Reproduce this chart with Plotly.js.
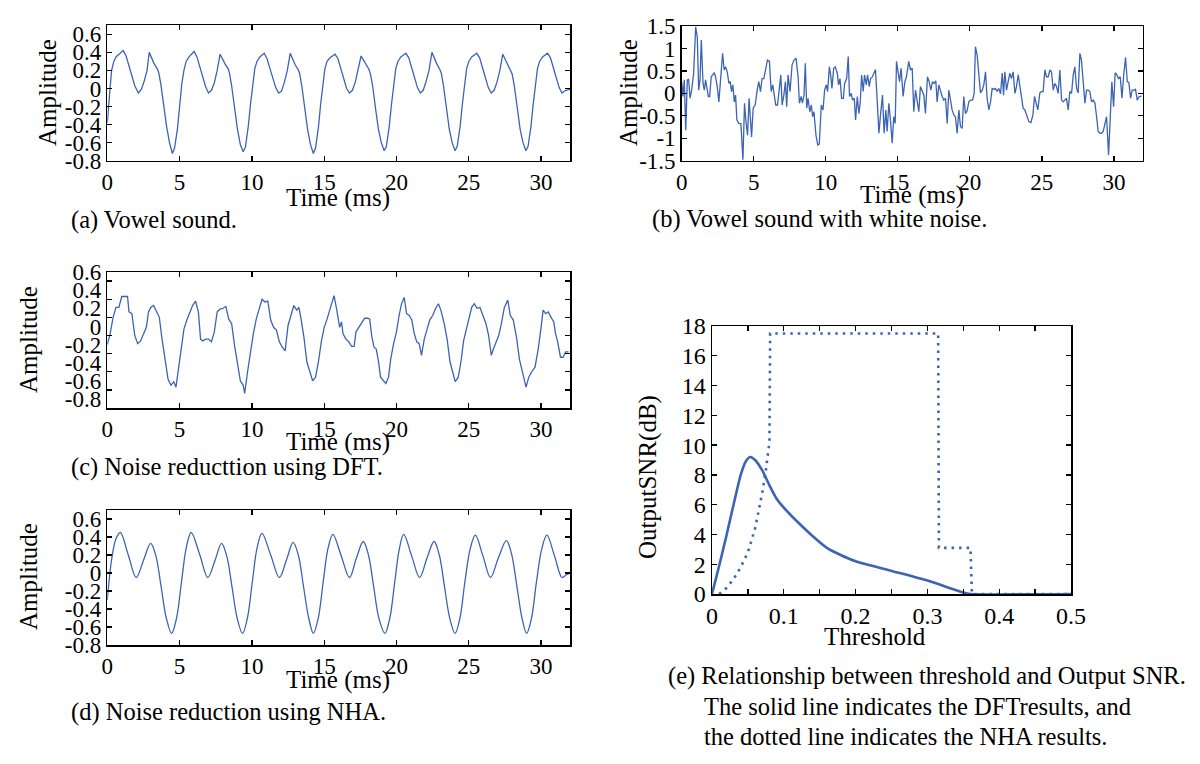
<!DOCTYPE html>
<html><head><meta charset="utf-8">
<script src="https://cdn.plot.ly/plotly-3.0.1.min.js"></script>
<style>html,body{margin:0;padding:0;background:#fff}#chart{width:1200px;height:764px}</style>
</head><body><div id="chart"></div>
<script>
// (a) Vowel sound
const timeA = [0,0.1,0.2,0.3,0.45,0.6,0.8,1.1,1.3,1.5,1.7,1.9,2.15,2.35,2.55,2.75,2.9,3.05,3.25,3.45,3.55,3.7,3.9,4.1,4.3,4.5,4.65,4.85,5.0,5.15,5.3,5.45,5.65,5.85,6.0,
6.2,6.4,6.6,6.8,7.0,7.2,7.4,7.6,7.8,7.95,8.15,8.35,8.45,8.6,8.8,9.0,9.2,9.4,9.55,9.75,9.9,10.05,10.2,10.35,10.55,10.85,
11.05,11.25,11.45,11.65,11.85,12.05,12.25,12.45,12.65,12.8,13.0,13.2,13.3,13.45,13.65,13.85,14.05,14.25,14.4,14.6,14.75,14.9,15.05,15.2,15.4,15.75,
15.95,16.15,16.35,16.55,16.75,16.95,17.15,17.35,17.55,17.7,17.9,18.1,18.2,18.35,18.55,18.75,18.95,19.15,19.3,19.5,19.65,19.8,19.95,20.1,20.3,20.65,
20.85,21.05,21.25,21.45,21.65,21.85,22.05,22.25,22.45,22.6,22.8,23.0,23.1,23.25,23.45,23.65,23.85,24.05,24.2,24.4,24.55,24.7,24.85,25.0,25.2,25.55,
25.75,25.95,26.15,26.35,26.55,26.75,26.95,27.15,27.35,27.5,27.7,27.9,28.0,28.15,28.35,28.55,28.75,28.95,29.1,29.3,29.45,29.6,29.75,29.9,30.1,30.45,
30.65,30.85,31.05,31.25,31.45,31.7,32.0];
const ampA = [-0.38,-0.22,0.02,0.2,0.3,0.35,0.38,0.42,0.36,0.24,0.12,0.03,-0.05,-0.01,0.08,0.2,0.4,0.34,0.27,0.22,0.18,0.05,-0.2,-0.42,-0.6,-0.72,-0.66,-0.45,-0.2,0.05,0.2,0.3,0.35,0.38,0.41,
0.35,0.24,0.12,0.02,-0.05,-0.02,0.06,0.2,0.38,0.33,0.27,0.22,0.17,0.03,-0.22,-0.45,-0.62,-0.7,-0.65,-0.42,-0.18,0.06,0.22,0.3,0.35,0.39,
0.33,0.22,0.11,0.01,-0.05,-0.03,0.07,0.2,0.39,0.33,0.26,0.21,0.17,0.03,-0.22,-0.45,-0.62,-0.72,-0.66,-0.43,-0.18,0.06,0.22,0.3,0.34,0.38,
0.33,0.22,0.1,0.0,-0.05,-0.02,0.07,0.2,0.36,0.32,0.26,0.21,0.16,0.03,-0.22,-0.45,-0.6,-0.69,-0.64,-0.42,-0.18,0.06,0.22,0.3,0.35,0.39,
0.34,0.23,0.11,0.01,-0.05,-0.02,0.08,0.2,0.4,0.34,0.27,0.21,0.17,0.03,-0.22,-0.45,-0.6,-0.69,-0.64,-0.42,-0.18,0.06,0.22,0.3,0.35,0.39,
0.34,0.23,0.11,0.01,-0.05,-0.02,0.07,0.2,0.38,0.33,0.26,0.21,0.16,0.03,-0.22,-0.45,-0.6,-0.69,-0.64,-0.42,-0.18,0.06,0.22,0.3,0.35,0.39,
0.34,0.23,0.11,0.01,-0.05,-0.02,-0.01];

// (b) Vowel sound with white noise
const timeB = [0,0.09,0.18,0.28,0.39,0.48,0.58,0.69,0.83,0.97,1.08,1.18,1.27,1.36,1.48,1.57,1.66,1.75,1.85,1.94,2.05,2.15,2.26,2.35,2.47,2.58,2.72,2.84,2.95,3.05,3.16,3.28,3.37,3.46,3.55,3.65,3.74,3.83,3.97,4.11,4.25,4.36,4.45,4.57,4.68,4.85,4.96,
5.1,5.24,5.35,5.47,5.58,5.7,5.84,5.95,6.09,6.21,6.32,6.44,6.53,6.65,6.76,6.88,6.97,7.09,7.2,7.29,7.38,7.52,7.66,7.8,7.94,8.08,8.17,8.29,8.38,8.49,8.58,8.68,8.77,8.89,9.0,9.09,9.18,9.32,9.44,9.55,9.69,9.81,9.92,
10.04,10.13,10.25,10.34,10.43,10.55,10.66,10.8,10.89,10.99,11.1,11.22,11.31,11.45,11.56,11.65,11.77,11.86,11.98,12.07,12.19,12.3,12.39,12.49,12.6,12.69,12.81,12.9,13.02,13.11,13.22,13.34,13.45,13.55,13.69,13.8,13.94,
14.05,14.17,14.26,14.38,14.49,14.61,14.72,14.82,14.91,15.0,15.12,15.23,15.37,15.49,15.6,15.76,15.88,16.0,16.11,16.23,16.34,16.46,16.57,16.69,16.81,16.92,17.06,17.18,17.29,17.41,17.52,17.64,17.73,17.85,17.96,
18.08,18.19,18.31,18.43,18.54,18.66,18.77,18.89,19.0,19.12,19.24,19.35,19.47,19.58,19.7,19.81,19.93,20.05,20.19,20.3,20.39,20.51,20.63,20.74,20.86,20.97,21.09,21.2,21.32,21.44,21.55,21.67,21.78,21.9,
22.01,22.13,22.25,22.34,22.43,22.55,22.66,22.78,22.89,23.01,23.13,23.24,23.36,23.47,23.59,23.7,23.82,23.96,24.1,24.24,24.38,24.49,24.61,24.72,24.86,24.98,25.09,25.21,25.32,25.44,25.56,25.67,25.79,25.9,
26.02,26.13,26.25,26.37,26.48,26.6,26.71,26.83,26.94,27.06,27.18,27.29,27.41,27.52,27.64,27.75,27.87,27.99,28.1,28.22,28.33,28.45,28.56,28.68,28.8,28.91,29.03,29.14,29.26,29.38,29.49,29.63,29.75,29.86,29.98,
30.09,30.21,30.32,30.44,30.56,30.67,30.81,30.93,31.04,31.16,31.27,31.39,31.5,31.62,31.76,31.92];
const ampB = [0.26,-0.07,0.3,-0.82,0.3,0.31,-0.11,0.07,0.45,1.48,1.26,0.07,0.3,1.19,0.22,0.07,0.3,0.07,-0.07,-0.07,0.37,0.41,0.46,0.37,0.15,-0.19,0.52,0.89,0.52,0.59,0.48,0.22,0.26,0.04,0.19,-0.19,-0.04,-0.59,-0.67,-0.68,-1.48,-0.22,-0.59,-0.93,-0.11,-0.97,-0.33,
-0.26,0.07,0.26,0.04,0.33,0.33,0.56,0.74,0.71,0.04,0.19,-0.06,-0.26,-0.26,0.11,0.41,-0.26,-0.04,0.26,-0.3,0.41,0.04,0.63,0.74,0.78,0.37,-0.22,-0.07,-0.22,-0.04,0.67,-0.33,-0.11,-0.41,-0.26,-0.52,-0.41,-0.93,-1.15,-1.13,-0.26,-0.37,0.07,
0.19,0.04,0.59,0.41,0.11,0.56,0.59,0.45,0.19,0.33,-0.11,-0.11,0.22,0.33,0.82,-0.07,0.0,-0.15,-0.11,-0.59,-0.07,-0.45,-0.22,0.41,0.04,0.41,0.19,0.41,0.15,0.33,0.36,0.45,0.53,-0.04,-0.89,-0.48,-0.04,
-0.89,-0.37,-0.85,-0.22,-0.59,-1.11,-0.52,-0.67,0.71,0.52,0.26,0.56,-0.07,0.26,0.37,0.71,0.52,0.56,-0.41,0.07,-0.15,-0.41,0.15,0.04,-0.04,-0.45,0.37,0.26,0.07,0.26,0.22,0.28,-0.19,0.19,0.04,
-0.07,-0.15,-0.11,-0.67,0.07,-0.15,-0.37,-0.48,-0.52,-0.89,-0.37,-0.74,-0.78,-0.07,-0.45,-0.39,-0.19,-0.15,-0.15,0.0,1.04,0.85,0.48,0.01,0.07,0.19,0.48,-0.11,-0.37,-0.19,0.11,0.09,0.11,0.04,
0.11,-0.01,0.45,-0.04,0.48,0.07,0.26,0.45,0.33,0.48,0.0,0.15,0.41,0.15,-0.15,-0.33,-0.37,-0.52,-0.63,-0.65,-0.48,-0.07,-0.26,-0.37,0.01,0.04,0.04,0.52,0.37,0.37,0.52,0.48,0.07,0.22,
0.15,0.0,0.52,-0.15,-0.19,-0.15,-0.11,-0.37,0.04,0.0,0.41,0.59,0.11,0.01,0.89,0.74,0.33,-0.22,0.07,0.07,0.04,-0.19,-0.15,-0.21,-0.52,-0.85,-0.89,-0.89,-0.85,-0.67,-0.52,-1.37,-0.59,0.26,-0.3,
0.46,0.41,0.33,0.37,-0.11,0.37,0.8,0.26,0.24,-0.11,0.07,0.07,0.09,-0.15,-0.07,-0.06];

// (c) Noise reduction using DFT
const timeC = [0,0.2,0.4,0.6,0.8,1.0,1.2,1.4,1.5,1.7,1.9,2.1,2.3,2.5,2.7,2.85,3.0,3.2,3.4,3.6,3.75,4.0,4.2,4.4,4.6,4.75,4.9,5.1,5.3,5.5,5.7,5.9,6.1,6.3,6.45,6.6,6.8,7.0,7.2,7.4,7.6,7.8,8.0,8.2,8.4,8.6,8.8,9.0,9.2,9.4,9.5,9.7,9.9,
10.1,10.3,10.5,10.7,10.9,11.1,11.3,11.5,11.7,11.9,12.1,12.3,12.5,12.7,12.9,13.1,13.25,13.4,13.6,13.8,14.0,14.2,14.4,14.6,14.8,15.0,15.2,15.4,15.68,15.86,16.07,16.2,16.3,16.5,16.7,16.9,17.07,17.2,17.4,17.6,17.8,18.0,18.15,18.3,18.45,18.6,18.75,18.9,19.1,19.26,19.45,19.6,19.8,
20.0,20.18,20.35,20.53,20.7,20.88,21.06,21.2,21.4,21.57,21.73,21.92,22.1,22.3,22.5,22.68,22.9,23.07,23.3,23.5,23.7,23.88,24.06,24.27,24.46,24.64,24.83,25.0,25.2,25.38,25.57,25.77,25.98,26.19,26.37,26.56,26.7,26.88,27.07,27.23,27.46,27.7,27.87,
28.08,28.3,28.5,28.73,28.96,29.15,29.35,29.58,29.8,30.0,30.14,30.32,30.5,30.69,30.88,31.0,31.15,31.34,31.52,31.7,31.9];
const ampC = [-0.1,0.02,0.2,0.31,0.31,0.43,0.43,0.43,0.26,0.24,0.0,-0.09,-0.06,0.02,0.09,0.26,0.31,0.33,0.26,0.2,0.0,-0.26,-0.48,-0.55,-0.51,-0.57,-0.4,-0.18,0.07,0.17,0.26,0.33,0.38,0.26,-0.04,-0.06,-0.04,-0.04,-0.07,0.04,0.26,0.29,0.3,0.32,0.18,0.13,-0.11,-0.31,-0.5,-0.55,-0.64,-0.4,-0.18,
0.02,0.18,0.29,0.4,0.37,0.38,0.17,0.09,0.06,-0.07,-0.13,-0.17,0.11,0.22,0.33,0.28,0.31,0.18,-0.02,-0.29,-0.4,-0.5,-0.46,-0.29,-0.07,0.09,0.18,0.29,0.44,0.29,0.09,0.15,0.02,-0.04,-0.07,-0.12,-0.12,0.04,0.09,0.15,0.19,0.19,0.18,-0.02,-0.13,-0.15,-0.28,-0.46,-0.5,-0.53,-0.46,-0.26,-0.09,
0.04,0.22,0.35,0.42,0.24,0.22,0.17,0.04,-0.07,-0.09,-0.22,-0.04,0.06,0.17,0.22,0.29,0.35,0.28,0.13,-0.04,-0.29,-0.39,-0.51,-0.46,-0.29,-0.06,0.07,0.15,0.31,0.35,0.3,0.31,0.22,0.13,0.0,-0.22,-0.15,-0.07,0.0,0.11,0.31,0.39,0.22,
0.17,-0.02,-0.26,-0.42,-0.57,-0.46,-0.4,-0.35,-0.15,0.09,0.28,0.24,0.26,0.2,0.15,0.02,-0.07,-0.24,-0.24,-0.18,-0.18];

// (d) Noise reduction using NHA
const timeD = [0,0.3,0.6,0.9,1.45,2.0,2.5,3.0,3.36,3.72,4.08,4.45,4.79,5.13,5.46,5.8,
6.4,6.95,7.45,7.9,8.26,8.62,8.98,9.35,9.69,10.03,10.36,10.7,
11.3,11.9,12.4,12.85,13.21,13.57,13.93,14.25,14.59,14.93,15.26,15.6,
16.18,16.75,17.22,17.7,18.06,18.42,18.78,19.2,19.54,19.88,20.2,20.5,
21.05,21.6,22.1,22.6,22.96,23.32,23.68,24.05,24.39,24.73,25.1,25.45,
25.98,26.5,27.05,27.6,27.96,28.32,28.68,29.0,29.34,29.68,30.05,30.4,
30.93,31.45,31.75,32.0];
const ampD = [-0.3,0.15,0.38,0.45,0.2,-0.05,0.14,0.33,0.19,-0.15,-0.5,-0.67,-0.5,-0.1,0.28,0.45,
0.2,-0.05,0.14,0.33,0.19,-0.15,-0.5,-0.67,-0.5,-0.1,0.28,0.44,
0.2,-0.05,0.15,0.34,0.2,-0.15,-0.5,-0.67,-0.5,-0.1,0.27,0.43,
0.19,-0.05,0.16,0.35,0.2,-0.15,-0.5,-0.67,-0.5,-0.1,0.27,0.43,
0.19,-0.05,0.16,0.35,0.2,-0.15,-0.5,-0.67,-0.5,-0.1,0.27,0.42,
0.19,-0.05,0.17,0.36,0.21,-0.14,-0.5,-0.67,-0.5,-0.1,0.27,0.42,
0.19,-0.05,-0.02,0.0];

// (e) Threshold vs Output SNR
const thrDFT = [0,0.01,0.02,0.03,0.04,0.047,0.053,0.06,0.07,0.08,0.09,0.1,0.12,0.14,0.16,0.18,0.2,0.25,0.3,0.35,0.36,0.5];
const snrDFT = [0,1.9,3.9,6.0,8.0,8.9,9.2,9.0,8.3,7.3,6.4,5.8,4.8,3.9,3.1,2.6,2.2,1.55,0.9,0.1,0,0];
const thrNHA = [0.01,0.02,0.03,0.04,0.05,0.06,0.07,0.075,0.08,0.081,0.315,0.316,0.36,0.362,0.5];
const snrNHA = [0,0.4,1.0,1.8,2.8,4.4,6.8,8.3,10.2,17.5,17.5,3.1,3.1,0,0];

const timeTicks = [0,5,10,15,20,25,30];
const ampTicks = [-0.8,-0.6,-0.4,-0.2,0,0.2,0.4,0.6];
const ampTicksText = ['-0.8','-0.6','-0.4','-0.2','0','0.2','0.4','0.6'];
const noiseTicks = [-1.5,-1,-0.5,0,0.5,1,1.5];
const noiseTicksText = ['-1.5','-1','-0.5','0','0.5','1','1.5'];
const thrTicks = [0,0.05,0.1,0.15,0.2,0.25,0.3,0.35,0.4,0.45,0.5];
const thrTicksText = ['0','','0.1','','0.2','','0.3','','0.4','','0.5'];
const snrTicks = [0,2,4,6,8,10,12,14,16,18];

const W = 1200, H = 764;
const fx = v => v / W, fy = v => 1 - v / H;
const serif = 'Liberation Serif, Times New Roman, serif';
const blue = '#3b64b2';
const TICK = 23, TITLE = 25, CAP = 24.5;

function ax(dom, extra) {
  return Object.assign({
    domain: dom, showline: true, linecolor: '#000', linewidth: 1.5, mirror: 'ticks',
    ticks: 'inside', ticklen: 5, tickwidth: 1.3, tickcolor: '#000',
    showgrid: false, zeroline: false, fixedrange: true,
    tickfont: {family: serif, size: TICK, color: '#000'}
  }, extra);
}

const traces = [
  {x: timeA, y: ampA, xaxis: 'x', yaxis: 'y', mode: 'lines', line: {color: blue, width: 1.3}},
  {x: timeB, y: ampB, xaxis: 'x2', yaxis: 'y2', mode: 'lines', line: {color: blue, width: 1.3}},
  {x: timeC, y: ampC, xaxis: 'x3', yaxis: 'y3', mode: 'lines', line: {color: blue, width: 1.3}},
  {x: timeD, y: ampD, xaxis: 'x4', yaxis: 'y4', mode: 'lines', line: {color: blue, width: 1.3, shape: 'spline', smoothing: 1}},
  {x: thrDFT, y: snrDFT, xaxis: 'x5', yaxis: 'y5', mode: 'lines', line: {color: blue, width: 2.6, shape: 'spline', smoothing: 0.6}},
  {x: thrNHA, y: snrNHA, xaxis: 'x5', yaxis: 'y5', mode: 'lines', line: {color: blue, width: 2.6, dash: '2.5px,5px'}}
];

const timeAx = dom => ax(dom, {range: [0, 32], tickvals: timeTicks, ticktext: timeTicks.map(String)});
const ampAx = dom => ax(dom, {range: [-0.8, 0.7], tickvals: ampTicks, ticktext: ampTicksText});

const layout = {
  width: W, height: H, margin: {l: 0, r: 0, t: 0, b: 0},
  paper_bgcolor: '#fff', plot_bgcolor: '#fff', showlegend: false,
  font: {family: serif, color: '#000'},
  xaxis: Object.assign(timeAx([fx(107.3), fx(570)]), {anchor: 'y'}),
  yaxis: Object.assign(ampAx([fy(160.7), fy(25.3)]), {anchor: 'x'}),
  xaxis2: ax([fx(681.7), fx(1142.7)], {anchor: 'y2', range: [0, 32], tickvals: timeTicks, ticktext: timeTicks.map(String)}),
  yaxis2: ax([fy(160.7), fy(26)], {anchor: 'x2', range: [-1.5, 1.5], tickvals: noiseTicks, ticktext: noiseTicksText}),
  xaxis3: Object.assign(timeAx([fx(107.3), fx(570)]), {anchor: 'y3'}),
  yaxis3: Object.assign(ampAx([fy(408), fy(272)]), {anchor: 'x3', ticklabelshift: -9}),
  xaxis4: Object.assign(timeAx([fx(107.3), fx(570)]), {anchor: 'y4'}),
  yaxis4: Object.assign(ampAx([fy(645), fy(510)]), {anchor: 'x4'}),
  xaxis5: ax([fx(712), fx(1071)], {anchor: 'y5', range: [0, 0.5], tickvals: thrTicks, ticktext: thrTicksText, tickfont: {family: serif, size: 24, color: '#000'}}),
  yaxis5: ax([fy(594), fy(326)], {anchor: 'x5', range: [0, 18], tickvals: snrTicks, ticktext: snrTicks.map(String), tickfont: {family: serif, size: 24, color: '#000'}}),
  annotations: []
};

function txt(t, x, y, size, opts) {
  layout.annotations.push(Object.assign({
    text: t, xref: 'paper', yref: 'paper', x: fx(x), y: fy(y),
    xanchor: 'center', yanchor: 'middle', showarrow: false,
    font: {family: serif, size: size, color: '#000'}
  }, opts || {}));
}
// axis titles
txt('Amplitude', 47, 93, TITLE, {textangle: -90});
txt('Time (ms)', 338, 198, TITLE);
txt('Amplitude', 628, 93, TITLE, {textangle: -90});
txt('Time (ms)', 912, 195, TITLE);
txt('Amplitude', 28, 340, TITLE, {textangle: -90});
txt('Time (ms)', 338, 442, TITLE);
txt('Amplitude', 28, 577, TITLE, {textangle: -90});
txt('Time (ms)', 338, 680, TITLE);
txt('OutputSNR(dB)', 648, 477, TITLE, {textangle: -90});
txt('Threshold', 875, 636, TITLE);
// captions
txt('(a) Vowel sound.', 69, 220, CAP, {xanchor: 'left'});
txt('(b) Vowel sound with white noise.', 650, 219, CAP, {xanchor: 'left'});
txt('(c) Noise reducttion using DFT.', 69, 467, CAP, {xanchor: 'left'});
txt('(d) Noise reduction using NHA.', 69, 712, CAP, {xanchor: 'left'});
txt('(e) Relationship between threshold and Output SNR.', 666, 676, CAP, {xanchor: 'left'});
txt('The solid line indicates the DFTresults, and', 702, 706, CAP, {xanchor: 'left'});
txt('the dotted line indicates the NHA results.', 702, 736, CAP, {xanchor: 'left'});

Plotly.newPlot('chart', traces, layout, {staticPlot: true, displayModeBar: false});
</script></body></html>
